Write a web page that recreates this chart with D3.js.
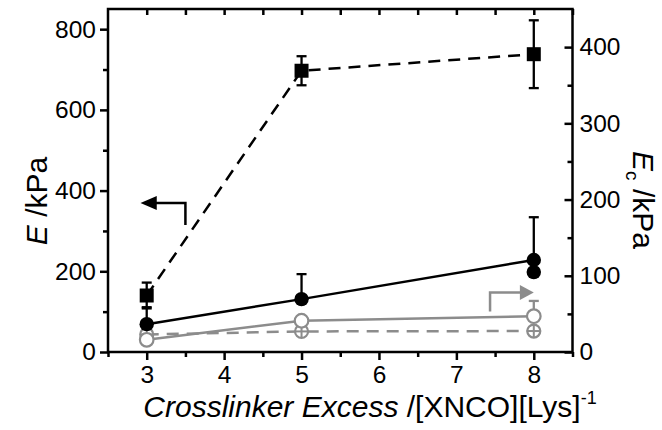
<!DOCTYPE html>
<html><head><meta charset="utf-8">
<script src="https://cdn.jsdelivr.net/npm/d3@7"></script>
<style>body{margin:0;background:#fff}svg{display:block}text{font-family:"Liberation Sans",Arial,sans-serif}</style>
</head><body><svg id="c" width="662" height="430"></svg>
<script>
const xVals = [3, 5, 8];
const xTicks = [3, 4, 5, 6, 7, 8];
const leftTicks = [0, 200, 400, 600, 800];
const rightTicks = [0, 100, 200, 300, 400];
// E (left axis, kPa) - black squares, dashed
const sqVals = [140, 697, 738];
const sqErr = [32, 36, 84];
// black circles, solid (left axis)
const bcVals = [69, 131, 228];
const bcErrUp = [42, 62, 106];
const bcExtraX = [8];
const bcExtraY = [198];
// Ec (right axis, kPa) - grey open circles, solid
const goVals = [16, 41, 47];
const goErrUp = [4, 4, 20];
// Ec grey crossed circles, dashed
const gxVals = [23, 27, 27.5];
const gxErr = [5, 5, 5];

const GREY = "#8c8c8c";
const svg = d3.select("#c");
const L = 108, R = 572.5, T = 9, B = 352;
const x = d3.scaleLinear().domain([2.5, 8.5]).range([L, R]);
const yL = d3.scaleLinear().domain([0, 850]).range([B, T]);
const yR = d3.scaleLinear().domain([0, 450]).range([B, T]);

function styleAxis(g){ g.select(".domain").remove(); g.selectAll("line").attr("stroke","#000").attr("stroke-width",2.5); g.selectAll("text").attr("font-size",24.5).attr("fill","#000"); }

// ticks
svg.append("g").attr("transform",`translate(0,${B})`).call(d3.axisBottom(x).tickValues(d3.range(2.5,8.51,0.5).filter(v=>v%1!==0)).tickSize(5).tickFormat("")).call(styleAxis);
svg.append("g").attr("transform",`translate(0,${B})`).call(d3.axisBottom(x).tickValues(xTicks).tickSize(8).tickPadding(6).tickFormat(d3.format("d"))).call(styleAxis);
svg.append("g").attr("transform",`translate(0,${T})`).call(d3.axisBottom(x).tickValues(d3.range(3,8.51,0.5)).tickSize(6).tickFormat("")).call(styleAxis);
svg.append("g").attr("transform",`translate(${L},0)`).call(d3.axisLeft(yL).tickValues([100,300,500,700]).tickSize(5).tickFormat("")).call(styleAxis);
svg.append("g").attr("transform",`translate(${L},0)`).call(d3.axisLeft(yL).tickValues(leftTicks).tickSize(8).tickPadding(4).tickFormat(d3.format("d"))).call(styleAxis);
svg.append("g").attr("transform",`translate(${R},0)`).call(d3.axisLeft(yR).tickValues([50,150,250,350]).tickSize(5).tickFormat("")).call(styleAxis);
const ra = svg.append("g").attr("transform",`translate(${R},0)`).call(d3.axisLeft(yR).tickValues(rightTicks).tickSize(8).tickFormat(d3.format("d"))).call(styleAxis);
ra.selectAll("text").attr("x",7).attr("text-anchor","start");

// frame
svg.append("rect").attr("x",L).attr("y",T).attr("width",R-L).attr("height",B-T).attr("fill","none").attr("stroke","#000").attr("stroke-width",2.5);

const line = (ys, yscale) => d3.line().x((d,i)=>x(xVals[i])).y(d=>yscale(d))(ys);

svg.append("path").attr("d",line(gxVals,yR)).attr("fill","none").attr("stroke",GREY).attr("stroke-width",2.5).attr("stroke-dasharray","12,8");
svg.append("path").attr("d",line(goVals,yR)).attr("fill","none").attr("stroke",GREY).attr("stroke-width",2.5);
svg.append("path").attr("d",line(sqVals,yL)).attr("fill","none").attr("stroke","#000").attr("stroke-width",2.5).attr("stroke-dasharray","12,8");
svg.append("path").attr("d",line(bcVals,yL)).attr("fill","none").attr("stroke","#000").attr("stroke-width",2.5);

function errBar(xv, lo, hi, color, cap){
  const g = svg.append("g").attr("stroke",color).attr("stroke-width",2.3);
  g.append("line").attr("x1",x(xv)).attr("x2",x(xv)).attr("y1",lo).attr("y2",hi);
  g.append("line").attr("x1",x(xv)-cap).attr("x2",x(xv)+cap).attr("y1",hi).attr("y2",hi);
  g.append("line").attr("x1",x(xv)-cap).attr("x2",x(xv)+cap).attr("y1",lo).attr("y2",lo);
}
function errUp(xv, v, up, yscale, color, cap){
  const g = svg.append("g").attr("stroke",color).attr("stroke-width",2.3);
  g.append("line").attr("x1",x(xv)).attr("x2",x(xv)).attr("y1",yscale(v)).attr("y2",yscale(v+up));
  g.append("line").attr("x1",x(xv)-cap).attr("x2",x(xv)+cap).attr("y1",yscale(v+up)).attr("y2",yscale(v+up));
}

// grey crossed circles
xVals.forEach((xv,i)=>{
  errBar(xv, yR(gxVals[i]-gxErr[i]), yR(gxVals[i]+gxErr[i]), GREY, 5);
  const cx=x(xv), cy=yR(gxVals[i]);
  svg.append("circle").attr("cx",cx).attr("cy",cy).attr("r",6.5).attr("fill","#fff").attr("stroke",GREY).attr("stroke-width",2.2);
  svg.append("line").attr("x1",cx-6.5).attr("x2",cx+6.5).attr("y1",cy).attr("y2",cy).attr("stroke",GREY).attr("stroke-width",2);
  svg.append("line").attr("x1",cx).attr("x2",cx).attr("y1",cy-6.5).attr("y2",cy+6.5).attr("stroke",GREY).attr("stroke-width",2);
});
// grey open circles
xVals.forEach((xv,i)=>{
  errUp(xv, goVals[i], goErrUp[i], yR, GREY, 5);
  svg.append("circle").attr("cx",x(xv)).attr("cy",yR(goVals[i])).attr("r",6.8).attr("fill","#fff").attr("stroke",GREY).attr("stroke-width",2.2);
});
// black circles
xVals.forEach((xv,i)=>{
  errUp(xv, bcVals[i], bcErrUp[i], yL, "#000", 5);
  svg.append("circle").attr("cx",x(xv)).attr("cy",yL(bcVals[i])).attr("r",7.2).attr("fill","#000");
});
bcExtraX.forEach((xv,i)=>{
  svg.append("circle").attr("cx",x(xv)).attr("cy",yL(bcExtraY[i])).attr("r",7.2).attr("fill","#000");
});
// black squares
xVals.forEach((xv,i)=>{
  errBar(xv, yL(sqVals[i]-sqErr[i]), yL(sqVals[i]+sqErr[i]), "#000", 5);
  svg.append("rect").attr("x",x(xv)-7).attr("y",yL(sqVals[i])-7).attr("width",14).attr("height",14).attr("fill","#000");
});

// arrows
svg.append("path").attr("d",`M${x(3.5)},${yL(315)}V${yL(369)}H${x(3.1)}`).attr("fill","none").attr("stroke","#000").attr("stroke-width",2.5);
svg.append("path").attr("d",`M${x(2.92)},${yL(369)}L${x(3.13)},${yL(369)-7}L${x(3.13)},${yL(369)+7}Z`).attr("fill","#000");
svg.append("path").attr("d",`M${x(7.435)},${yR(53)}V${yR(78)}H${x(7.85)}`).attr("fill","none").attr("stroke",GREY).attr("stroke-width",2.5);
svg.append("path").attr("d",`M${x(8.0)},${yR(78)}L${x(7.82)},${yR(78)-7.5}L${x(7.82)},${yR(78)+7.5}Z`).attr("fill",GREY);

// titles
const lt = svg.append("text").attr("transform","translate(47,201) rotate(-90)").attr("text-anchor","middle").attr("font-size",30);
lt.append("tspan").attr("font-style","italic").text("E");
lt.append("tspan").text(" /kPa");
const rt = svg.append("text").attr("transform","translate(633,200) rotate(90)").attr("text-anchor","middle").attr("font-size",30);
rt.append("tspan").attr("font-style","italic").text("E");
rt.append("tspan").attr("font-size",19).attr("dy",7).text("c");
rt.append("tspan").attr("dy",-7).text(" /kPa");
const xt = svg.append("text").attr("x",370).attr("y",417).attr("text-anchor","middle").attr("font-size",30);
xt.append("tspan").attr("font-style","italic").text("Crosslinker Excess");
xt.append("tspan").text(" /[XNCO][Lys]");
xt.append("tspan").attr("font-size",18).attr("dy",-13).text("-1");
</script></body></html>
